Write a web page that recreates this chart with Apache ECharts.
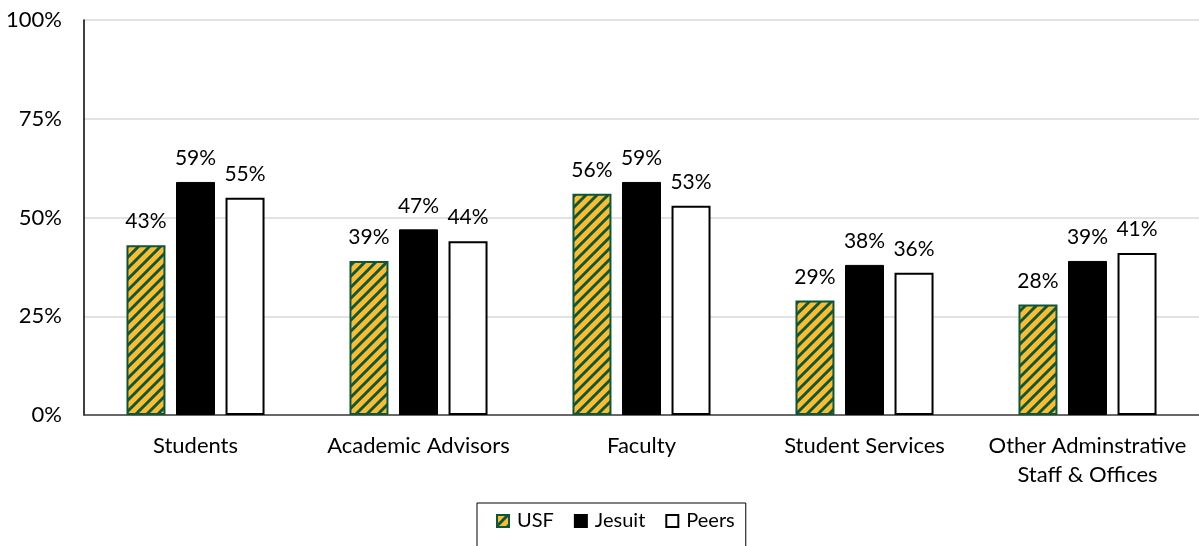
<!DOCTYPE html>
<html>
<head>
<meta charset="utf-8">
<script src="https://cdn.jsdelivr.net/npm/echarts@6/dist/echarts.min.js"></script>
<style>
  html, body { margin: 0; padding: 0; background: #fff; }
  #chart { width: 1199px; height: 546px; }
</style>
</head>
<body>
<div id="chart"></div>
<script>
// data
const categories = ['Students', 'Academic Advisors', 'Faculty', 'Student Services', 'Other Adminstrative\nStaff & Offices'];
const usf = [43, 39, 56, 29, 28];
const jesuit = [59, 47, 59, 38, 39];
const peers = [55, 44, 53, 36, 41];
const yTicks = [0, 25, 50, 75, 100];

// striped fill for USF
function makeStripes() {
  const n = 11;
  const c = document.createElement('canvas');
  c.width = n; c.height = n;
  const ctx = c.getContext('2d');
  ctx.fillStyle = '#FDBB30';
  ctx.fillRect(0, 0, n, n);
  ctx.strokeStyle = '#0B573A';
  ctx.lineWidth = 2.9;
  ctx.beginPath();
  ctx.moveTo(-2, n + 2); ctx.lineTo(n + 2, -2);
  ctx.moveTo(-2, 2); ctx.lineTo(2, -2);
  ctx.moveTo(n - 2, n + 2); ctx.lineTo(n + 2, n - 2);
  ctx.stroke();
  return c;
}

const font = 'Lato, "Noto Sans", sans-serif';
const chart = echarts.init(document.getElementById('chart'));

const labelOpt = {
  show: true,
  position: 'top',
  distance: 13,
  fontSize: 21,
  fontFamily: font,
  color: '#000',
  formatter: p => p.value + '%'
};

chart.setOption({
  animation: false,
  textStyle: { fontFamily: font },
  grid: { left: 84, right: 0, top: 20, bottom: 131, containLabel: false },
  legend: {
    top: 503,
    left: 477,
    padding: [8, 11, 30, 19],
    borderColor: '#000',
    borderWidth: 1,
    icon: 'rect',
    itemWidth: 12,
    itemHeight: 12,
    itemGap: 20,
    textStyle: { fontSize: 20, fontFamily: font, color: '#000', padding: [0, 0, 0, 3] },
    data: ['USF', 'Jesuit', 'Peers']
  },
  xAxis: {
    type: 'category',
    data: categories,
    axisLine: { lineStyle: { color: '#404040', width: 1.5 } },
    axisTick: { show: false },
    axisLabel: { interval: 0, fontSize: 22, fontFamily: font, color: '#000', margin: 16, lineHeight: 29 }
  },
  yAxis: {
    type: 'value',
    min: yTicks[0],
    max: yTicks[yTicks.length - 1],
    interval: 25,
    axisLine: { show: true, lineStyle: { color: '#000', width: 1.5 } },
    axisTick: { show: false },
    splitLine: { lineStyle: { color: '#d9d9d9', width: 1.5 } },
    axisLabel: { fontSize: 22, fontFamily: font, color: '#000', margin: 22, formatter: '{value}%' }
  },
  series: [
    {
      name: 'USF', type: 'bar', data: usf, barWidth: 39, barGap: '27%',
      itemStyle: { color: { image: makeStripes(), repeat: 'repeat' }, borderColor: '#0B573A', borderWidth: 2 },
      label: labelOpt
    },
    {
      name: 'Jesuit', type: 'bar', data: jesuit, barWidth: 39,
      itemStyle: { color: '#000', borderColor: '#000', borderWidth: 1 },
      label: labelOpt
    },
    {
      name: 'Peers', type: 'bar', data: peers, barWidth: 39,
      itemStyle: { color: '#fff', borderColor: '#000', borderWidth: 2 },
      label: labelOpt
    }
  ]
});
</script>
</body>
</html>
